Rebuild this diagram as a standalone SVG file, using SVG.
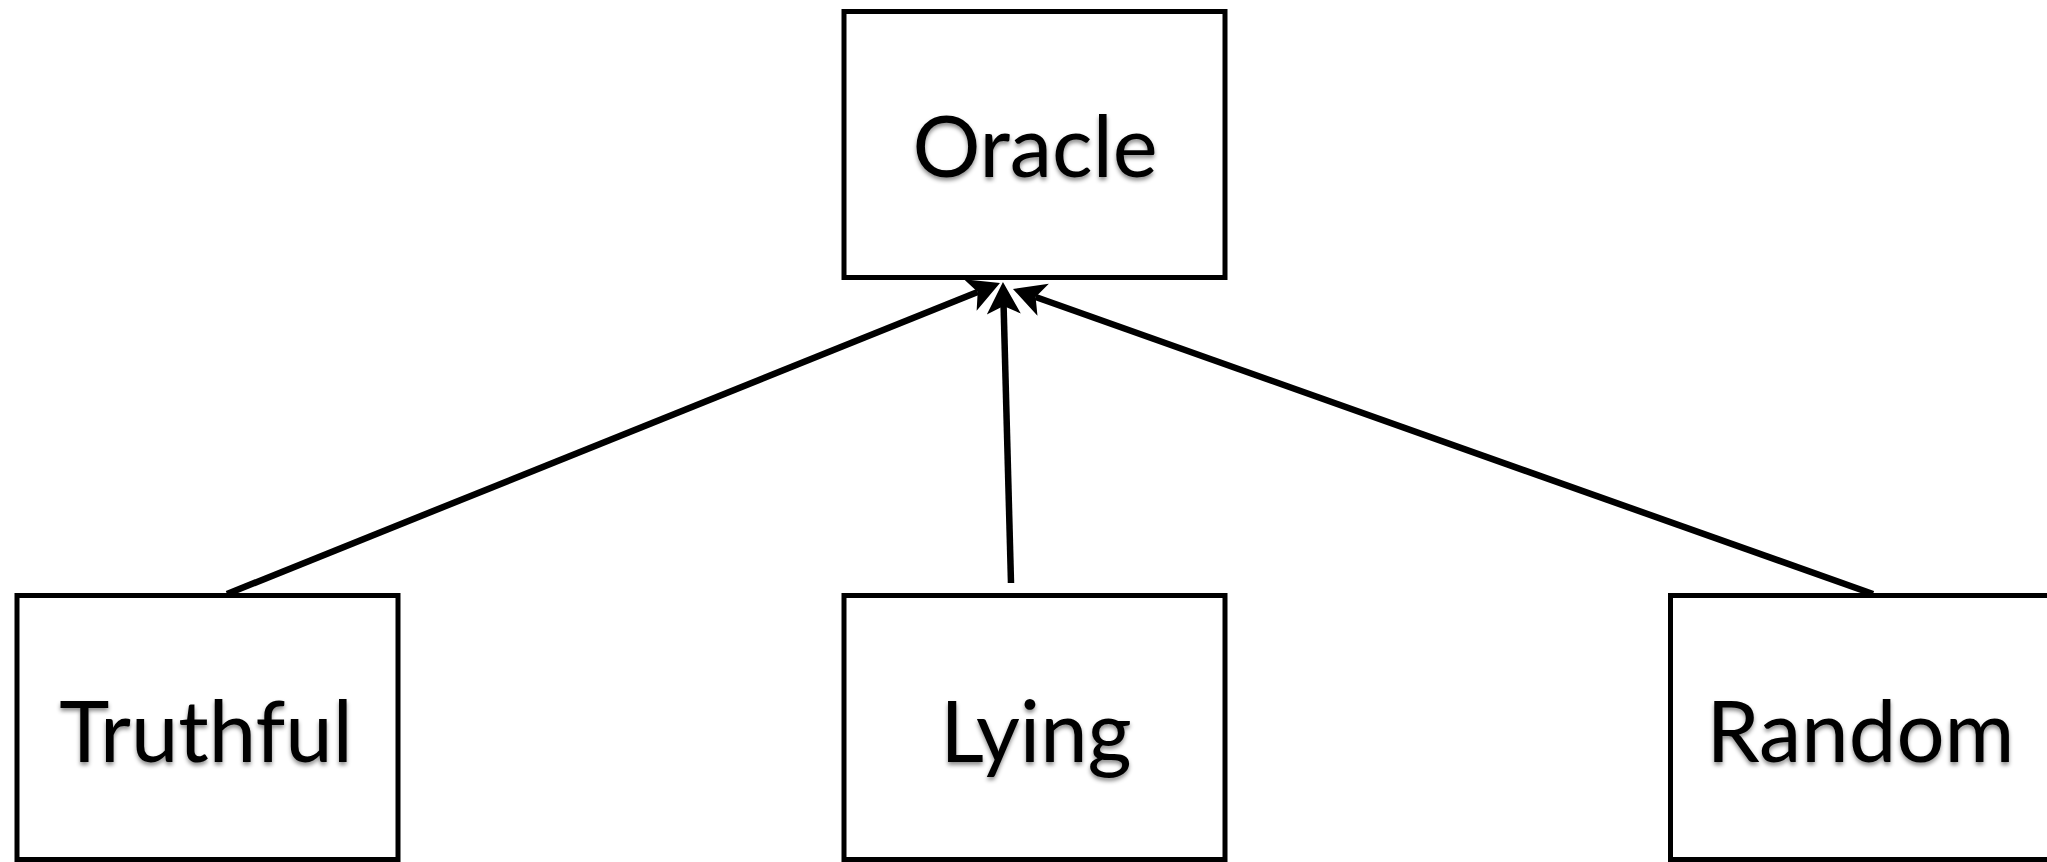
<svg xmlns="http://www.w3.org/2000/svg" width="2047" height="862" viewBox="0 0 2047 862">
<style>
.box{fill:#fff;stroke:#000;stroke-width:5}
.lbl{font-family:Lato,"Open Sans","Liberation Sans",sans-serif;font-size:85px;fill:#000;text-anchor:middle;filter:url(#sh)}
.edge{stroke:#000;stroke-width:6.5;fill:none;marker-end:url(#ah)}
</style>
<defs>
<filter id="sh" x="-10%" y="-20%" width="120%" height="150%">
<feDropShadow dx="0" dy="3" stdDeviation="2" flood-color="#000" flood-opacity="0.45"/>
</filter>
<marker id="ah" markerUnits="userSpaceOnUse" viewBox="-10 -18 36 36" refX="0" refY="0" markerWidth="36" markerHeight="36" orient="auto">
<path d="M24,0 L-8,-17 L0,0 L-8,17 Z" fill="#000"/>
</marker>
</defs>
<rect width="2047" height="862" fill="#fff"/>
<g id="oracle"><rect class="box" x="844" y="11.5" width="381" height="266"/><text class="lbl" x="1035" y="177">Oracle</text></g>
<g id="truthful"><rect class="box" x="17" y="595.5" width="381" height="264"/><text class="lbl" x="206" y="762">Truthful</text></g>
<g id="lying"><rect class="box" x="844" y="595.5" width="381" height="264"/><text class="lbl" x="1036" y="762">Lying</text></g>
<g id="random"><rect class="box" x="1670.5" y="595.5" width="381" height="264"/><text class="lbl" x="1860.5" y="762">Random</text></g>
<g id="connectors">
<line class="edge" x1="227" y1="594" x2="977.7" y2="292"/>
<line class="edge" x1="1011" y1="583" x2="1003.6" y2="306"/>
<line class="edge" x1="1873" y1="594" x2="1035.6" y2="297"/>
</g>
</svg>
